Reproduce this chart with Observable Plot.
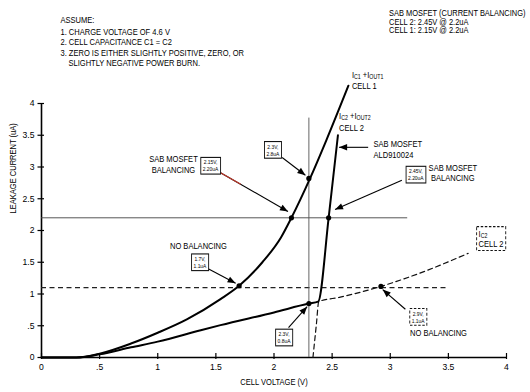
<!DOCTYPE html>
<html><head><meta charset="utf-8">
<script src="https://cdn.jsdelivr.net/npm/d3@7"></script>
<script src="https://cdn.jsdelivr.net/npm/@observablehq/plot@0.6"></script>
<style>
body{margin:0;background:#fff;}
svg text{font-family:'Liberation Sans',Arial,sans-serif;}
</style>
</head><body><div id="chart"></div>
<script>
// ---- data ----
const cell1V = [0, 0.3, 0.5, 0.77, 1.0, 1.25, 1.54, 1.7, 1.9, 2.06, 2.15, 2.31, 2.45, 2.64];
const cell1I = [0, 0.0, 0.06, 0.22, 0.39, 0.6, 0.92, 1.13, 1.5, 1.89, 2.2, 2.82, 3.42, 4.28];
const cell2V = [0, 0.3, 0.5, 0.77, 1.0, 1.37, 1.54, 2.0, 2.3, 2.38, 2.47, 2.55];
const cell2I = [0, 0.0, 0.05, 0.16, 0.25, 0.43, 0.51, 0.71, 0.85, 0.88, 2.2, 3.5];
const ic2V = [2.335, 2.365, 2.385, 2.57, 2.92, 3.3, 3.67];
const ic2I = [0, 0.53, 0.88, 0.95, 1.12, 1.36, 1.64];
const balancedLevel = 2.2, balancedEnd = 3.15;
const unbalancedLevel = 1.1, unbalancedEnd = 3.49;
const markerV = 2.3, markerTop = 3.77;
const pointV = [1.7, 2.15, 2.3, 2.47, 2.3, 2.92];
const pointI = [1.13, 2.2, 2.82, 2.2, 0.85, 1.12];
const xTicks = [0, 0.5, 1, 1.5, 2, 2.5, 3, 3.5, 4];
const xTickLabels = ["0", ".5", "1", "1.5", "2", "2.5", "3", "3.5", "4"];
const yTicks = [0, 0.5, 1, 1.5, 2, 2.5, 3, 3.5, 4];
const yTickLabels = ["0", ".5", "1", "1.5", "2", "2.5", "3", "3.5", "4"];
const xTitle = "CELL VOLTAGE (V)";
const yTitle = "LEAKAGE CURRENT (uA)";
const notesLeft = ["ASSUME:", "1. CHARGE VOLTAGE OF 4.6 V", "2. CELL CAPACITANCE C1 = C2", "3. ZERO IS EITHER SLIGHTLY POSITIVE, ZERO, OR", "SLIGHTLY NEGATIVE POWER BURN."];
const notesRight = ["SAB MOSFET (CURRENT BALANCING)", "CELL 2: 2.45V @ 2.2uA", "CELL 1: 2.15V @ 2.2uA"];

// ---- annotation layout (data coordinates) ----
const leftNoteX = [0.163, 0.163, 0.163, 0.163, 0.232];
const leftNoteY = [5.31, 5.13, 4.96, 4.80, 4.63];
const rightNoteY = [5.42, 5.283, 5.146];
const labelsStart = [
  {text: "I_{C1} +I_{OUT1}", x: 2.67, y: 4.45},
  {text: "CELL 1", x: 2.67, y: 4.28},
  {text: "I_{C2} +I_{OUT2}", x: 2.56, y: 3.80},
  {text: "CELL 2", x: 2.56, y: 3.62},
  {text: "SAB MOSFET", x: 2.856, y: 3.36},
  {text: "ALD910024", x: 2.856, y: 3.19},
  {text: "SAB MOSFET", x: 3.33, y: 2.99},
  {text: "BALANCING", x: 3.35, y: 2.82}
];
const labelsMiddle = [
  {text: "SAB MOSFET", x: 1.135, y: 3.12},
  {text: "BALANCING", x: 1.135, y: 2.95},
  {text: "NO BALANCING", x: 1.35, y: 1.75},
  {text: "NO BALANCING", x: 3.415, y: 0.38}
];
const solidBoxes = [
  {text: "2.15V,\n2.20uA", x: 1.454, y: 3.02},
  {text: "2.3V,\n2.8uA", x: 1.99, y: 3.27},
  {text: "2.45V,\n2.20uA", x: 3.22, y: 2.88},
  {text: "1.7V,\n1.1uA", x: 1.363, y: 1.50},
  {text: "2.3V,\n0.8uA", x: 2.086, y: 0.315}
];
const dashedValueBoxes = [{text: "2.9V,\n1.1uA", x: 3.24, y: 0.64}];
const dashedCurveBoxes = [{text: "I_{C2}\nCELL 2", x: 3.76, y: 1.87}];
const arrows = [
  {x1: 2.81, y1: 3.31, x2: 2.56, y2: 3.31},
  {x1: 3.10, y1: 2.79, x2: 2.525, y2: 2.33},
  {x1: 1.54, y1: 2.91, x2: 2.12, y2: 2.30, red: true},
  {x1: 2.07, y1: 3.15, x2: 2.27, y2: 2.87},
  {x1: 1.43, y1: 1.40, x2: 1.67, y2: 1.17},
  {x1: 2.125, y1: 0.47, x2: 2.285, y2: 0.80},
  {x1: 3.13, y1: 0.76, x2: 2.935, y2: 1.07}
];

const cell1 = cell1V.map((v, i) => ({v, i: cell1I[i]}));
const cell2 = cell2V.map((v, i) => ({v, i: cell2I[i]}));
const ic2 = ic2V.map((v, i) => ({v, i: ic2I[i]}));
const points = pointV.map((v, i) => ({v, i: pointI[i]}));
const leftNotes = notesLeft.map((t, k) => ({text: t, x: leftNoteX[k], y: leftNoteY[k]}));
const rightNotes = notesRight.map((t, k) => ({text: t, x: 2.99, y: rightNoteY[k]}));

const yTickSym = {draw(ctx) { ctx.moveTo(-4, 0); ctx.lineTo(2.5, 0); }};
const xTickSym = {draw(ctx) { ctx.moveTo(0, -4.5); ctx.lineTo(0, 1.5); }};
const headSym = {draw(ctx) { ctx.moveTo(0, 0); ctx.lineTo(3.2, 8); ctx.lineTo(-3.2, 8); ctx.closePath(); }};

const FS = 9.2, K = 0.82, FS2 = 8.3, K2 = 0.9;
function options(extra) {
  return {
    width: 530, height: 392,
    marginLeft: 41, marginRight: 24, marginTop: 103, marginBottom: 35,
    style: {fontSize: "8.6px", background: "white", color: "black", overflow: "visible"},
    x: {domain: [0, 4], ticks: xTicks, tickFormat: d => xTickLabels[xTicks.indexOf(d)], tickSize: 0, tickPadding: 6, label: null},
    y: {domain: [0, 4], ticks: yTicks, tickFormat: d => yTickLabels[yTicks.indexOf(d)], tickSize: 0, tickPadding: 7, label: null},
    marks: [
      Plot.ruleX([0], {y1: 0, y2: 4, strokeWidth: 1.6}),
      Plot.ruleY([0], {x1: 0, x2: 4, strokeWidth: 1.6}),
      Plot.dot(yTicks, {x: d => 0, y: d => d, symbol: yTickSym, stroke: "black", fill: "none", strokeWidth: 1.2}),
      Plot.dot(xTicks, {x: d => d, y: d => 0, symbol: xTickSym, stroke: "black", fill: "none", strokeWidth: 1.2}),
      Plot.ruleY([balancedLevel], {x1: 0, x2: balancedEnd, stroke: "#444", strokeWidth: 0.9}),
      Plot.ruleY([unbalancedLevel], {x1: 0, x2: unbalancedEnd, stroke: "#222", strokeWidth: 1.1, strokeDasharray: "5,3.5"}),
      Plot.ruleX([markerV], {y1: 0, y2: markerTop, stroke: "#555", strokeWidth: 0.9}),
      Plot.line(ic2, {x: "v", y: "i", curve: "monotone-x", stroke: "#111", strokeWidth: 1.2, strokeDasharray: "5,3.5"}),
      Plot.line(cell2, {x: "v", y: "i", curve: "monotone-x", stroke: "#000", strokeWidth: 2}),
      Plot.line(cell1, {x: "v", y: "i", curve: "monotone-x", stroke: "#000", strokeWidth: 2}),
      Plot.dot(points, {x: "v", y: "i", r: 2.6, fill: "black", stroke: "none"}),
      Plot.link(arrows, {x1: "x1", y1: "y1", x2: "x2", y2: "y2", stroke: "black", strokeWidth: 1.1}),
      Plot.link(arrows.filter(d => d.red), {x1: "x1", y1: "y1", x2: d => d.x1 + (d.x2 - d.x1) * 0.3, y2: d => d.y1 + (d.y2 - d.y1) * 0.3, stroke: "#c0392b", strokeWidth: 1.1}),
      Plot.text([xTitle], {frameAnchor: "bottom", text: d => d, dy: 27, fontSize: FS, className: "cond"}),
      Plot.text([yTitle], {frameAnchor: "left", text: d => d, dx: -28, dy: -17, rotate: -90, fontSize: FS, className: "cond"}),
      Plot.text(leftNotes, {x: "x", y: "y", text: "text", textAnchor: "start", fontSize: FS, className: "cond"}),
      Plot.text(rightNotes, {x: "x", y: "y", text: "text", textAnchor: "start", fontSize: FS2, className: "cond2"}),
      Plot.text(labelsStart, {x: "x", y: "y", text: "text", textAnchor: "start", fontSize: FS, className: "cond"}),
      Plot.text(labelsMiddle, {x: "x", y: "y", text: "text", textAnchor: "middle", fontSize: FS, className: "cond"}),
      Plot.text(solidBoxes, {x: "x", y: "y", text: "text", fontSize: 6, lineHeight: 1.15, className: "boxsolid"}),
      Plot.text(dashedValueBoxes, {x: "x", y: "y", text: "text", fontSize: 6, lineHeight: 1.15, className: "boxdashed"}),
      Plot.text(dashedCurveBoxes, {x: "x", y: "y", text: "text", textAnchor: "start", fontSize: 9.2, lineHeight: 1.05, className: "boxdashed"}),
      ...extra
    ]
  };
}

const base = Plot.plot(options([]));
const sx = base.scale("x"), sy = base.scale("y");
const ang = d => {
  const dx = sx.apply(d.x2) - sx.apply(d.x1), dy = sy.apply(d.y2) - sy.apply(d.y1);
  return Math.atan2(dx, -dy) * 180 / Math.PI;
};
const chart = Plot.plot(options([
  Plot.dot(arrows, {x: "x2", y: "y2", symbol: headSym, rotate: ang, fill: "black", stroke: "none"})
]));
document.getElementById("chart").appendChild(chart);

const NS = "http://www.w3.org/2000/svg";
// subscripts
chart.querySelectorAll("text, tspan").forEach(el => {
  if (el.children.length) return;
  const s = el.textContent;
  if (!s.includes("_{")) return;
  el.textContent = "";
  const re = /_\{([^}]*)\}/g; let last = 0, m;
  const add = (t, sub) => {
    const ts = document.createElementNS(NS, "tspan");
    ts.textContent = t;
    if (sub) { ts.setAttribute("font-size", "70%"); ts.setAttribute("baseline-shift", "-12%"); }
    el.appendChild(ts);
  };
  while ((m = re.exec(s))) { if (m.index > last) add(s.slice(last, m.index), false); add(m[1], true); last = re.lastIndex; }
  if (last < s.length) add(s.slice(last), false);
});
// condensed lettering (the original uses a narrow typeface)
const condense = (sel, k) => chart.querySelectorAll(sel).forEach(t => {
  const tr = t.getAttribute("transform") || "";
  t.setAttribute("transform", tr + ` scale(${k},1)`);
});
condense("g.cond text, g.boxsolid text, g.boxdashed text", K);
condense("g.cond2 text", K2);
// boxes around value labels
function boxes(cls, dash) {
  chart.querySelectorAll("g." + cls + " text").forEach(t => {
    const b = t.getBBox();
    const r = document.createElementNS(NS, "rect");
    const px = 2.4, py = 1.6;
    r.setAttribute("x", b.x - px); r.setAttribute("y", b.y - py);
    r.setAttribute("width", b.width + 2 * px); r.setAttribute("height", b.height + 2 * py);
    r.setAttribute("fill", "white"); r.setAttribute("stroke", "#111"); r.setAttribute("stroke-width", 1.1);
    if (dash) r.setAttribute("stroke-dasharray", "3,2");
    const tr = t.getAttribute("transform");
    if (tr) r.setAttribute("transform", tr);
    t.parentNode.insertBefore(r, t);
  });
}
boxes("boxsolid", false);
boxes("boxdashed", true);
</script>
</body></html>
